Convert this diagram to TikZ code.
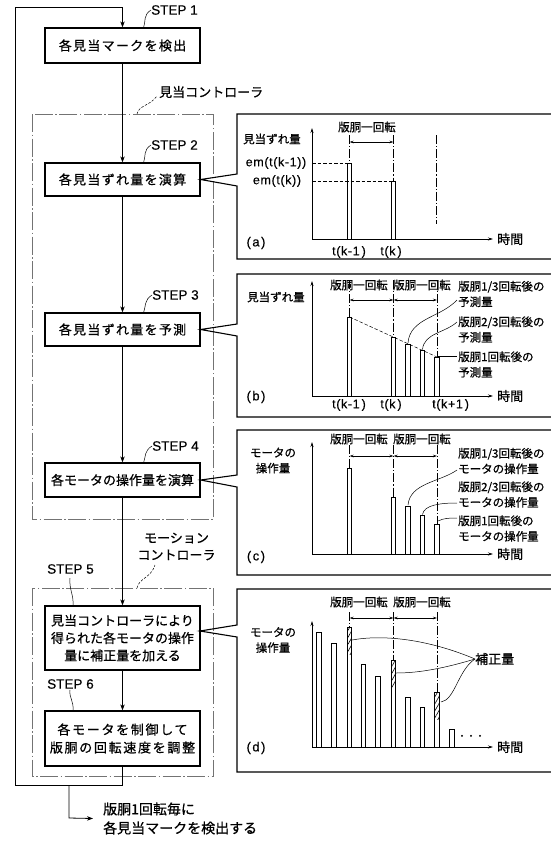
\documentclass[tikz,border=0pt]{standalone}
\usepackage{fontspec}
\setmainfont{Liberation Sans}[FakeBold=0.3]
\newfontfamily\jp{Noto Sans CJK JP}[FakeBold=0.7]
\newfontfamily\jpw{Noto Sans CJK JP}[LetterSpace=10,FakeBold=0.7]
\newfontfamily\jpww{Noto Sans CJK JP}[LetterSpace=13,FakeBold=0.7]
\newfontfamily\lsw{Liberation Sans}[LetterSpace=5,FakeBold=0.3]
\usetikzlibrary{arrows.meta,patterns.meta,calc}
\begin{document}
\begin{tikzpicture}[x=1pt,y=-1pt,
  stepbox/.style={draw, line width=1.3pt, minimum width=155pt, inner sep=0pt, align=center, font=\jp\fontsize{13}{17.5}\selectfont},
  steplbl/.style={anchor=west, inner sep=0pt, font=\fontsize{13.5}{14}\selectfont},
  flow/.style={line width=0.8pt},
  arr/.style={-{Stealth[length=6pt,width=4.5pt]}},
  ctrlbox/.style={draw=black!55, line width=0.6pt, dash pattern=on 18pt off 2.5pt on 1.5pt off 2.5pt},
  lead/.style={line width=0.5pt},
  dlead/.style={line width=0.5pt, dash pattern=on 2.5pt off 1.5pt},
  panelln/.style={line width=1.1pt, line join=miter},
  axln/.style={line width=0.7pt, -{Stealth[length=5pt,width=3pt]}},
  dimarr/.style={line width=0.6pt, {Stealth[length=4pt,width=2.5pt]}-{Stealth[length=4pt,width=2.5pt]}},
  ddln/.style={line width=0.5pt, dash pattern=on 9pt off 2pt on 1.2pt off 2pt},
  hdln/.style={line width=0.5pt, dash pattern=on 3.5pt off 2pt},
  barst/.style={draw, line width=0.9pt},
  hatchst/.style={pattern={Lines[angle=60,distance=3.5pt,line width=0.6pt]}},
  ptxt/.style={inner sep=0pt, font=\jp\fontsize{11.5}{15.5}\selectfont},
  ltxt/.style={inner sep=0pt, font=\jp\fontsize{13}{17}\selectfont},
  ticklbl/.style={inner sep=0pt, font=\lsw\fontsize{12.5}{13}\selectfont},
  plbl/.style={inner sep=0pt, font=\fontsize{13}{14}\selectfont},
]
\useasboundingbox (0,0) rectangle (550,841);
\fill[white] (0,0) rectangle (550,841);

% ---------------- controller boxes
\draw[ctrlbox] (32,114) rectangle (213,519);
\draw[ctrlbox] (32,588) rectangle (213,776);

% ---------------- step boxes
\node[stepbox, minimum height=35pt, font=\jpw\fontsize{13}{17.5}\selectfont] (s1) at (122.5,45.5) {各見当マークを検出};
\node[stepbox, minimum height=33pt, font=\jpw\fontsize{13}{17.5}\selectfont] (s2) at (122.5,179.5) {各見当ずれ量を演算};
\node[stepbox, minimum height=33pt, font=\jpw\fontsize{13}{17.5}\selectfont] (s3) at (122.5,329.5) {各見当ずれ量を予測};
\node[stepbox, minimum height=34pt] (s4) at (122.5,480) {各モータの操作量を演算};
\node[stepbox, minimum height=64pt] (s5) at (122.5,638) {見当コントローラにより\\得られた各モータの操作\\量に補正量を加える};
\node[stepbox, minimum height=55pt, font=\jpww\fontsize{13}{18}\selectfont] (s6) at (122.5,738.5) {各モータを制御して\\版胴の回転速度を調整};

% ---------------- step labels
\node[steplbl] (l1) at (151,10) {STEP 1};
\node[steplbl] (l2) at (151,145) {STEP 2};
\node[steplbl] (l3) at (152,295) {STEP 3};
\node[steplbl] (l4) at (152,446) {STEP 4};
\node[steplbl] (l5) at (47,569) {STEP 5};
\node[steplbl] (l6) at (47,684) {STEP 6};
\draw[lead] (143.5,28) .. controls (146,21) and (143,15) .. (l1.west);
\draw[lead] (143.5,163) .. controls (146,156) and (143,150) .. (l2.west);
\draw[lead] (143.5,313) .. controls (146,306) and (144,300) .. (l3.west);
\draw[lead] (143.5,463) .. controls (146,456) and (144,451) .. (l4.west);
\draw[lead] (73,606) .. controls (74,595) and (69,590) .. (70,578);
\draw[lead] (73,711) .. controls (74,701) and (69,698) .. (70,690);

% ---------------- controller labels
\node[ltxt, anchor=west] (kc) at (159,92) {見当コントローラ};
\node[ltxt, align=center] (mc) at (176.5,546.5) {モーション\\コントローラ};
\draw[dlead] (137,114) .. controls (139,105) and (150,106) .. (157,96);
\draw[dlead] (137,588) .. controls (139,578) and (151,578) .. (155,565);

% ---------------- flow
\draw[flow,arr] (s1.south) -- (s2.north);
\draw[flow,arr] (s2.south) -- (s3.north);
\draw[flow,arr] (s3.south) -- (s4.north);
\draw[flow,arr] (s4.south) -- (s5.north);
\draw[flow,arr] (s5.south) -- (s6.north);
\coordinate (lb) at (122.5,785);
\coordinate (lbl) at (15,785);
\coordinate (ltl) at (15,7);
\coordinate (ltr) at (122.5,7);
\draw[flow,arr] (s6.south) -- (lb) -- (lbl) -- (ltl) -- (ltr) -- (s1.north);
\coordinate (br) at (69,785);
\coordinate (bd) at (69,818);
\node[inner sep=0pt, anchor=west, align=left, font=\jp\fontsize{14}{19}\selectfont] (bt) at (103,818.5) {版胴1回転毎に\\各見当マークを検出する};
\draw[flow,arr] (br) -- (bd) -- ($(bt.west)+(-10,0)$);

% ---------------- panel outlines with callouts
\coordinate (tipd) at (200,631);
\draw[panelln] (552,114) -- (237,114) -- (237,174) -- (s2.east) -- (237,186) -- (237,259) -- (552,259);
\draw[panelln] (552,274) -- (237,274) -- (237,324) -- (s3.east) -- (237,336) -- (237,417) -- (552,417);
\draw[panelln] (552,430) -- (237,430) -- (237,475) -- (s4.east) -- (237,487) -- (237,575) -- (552,575);
\draw[panelln] (552,589) -- (237,589) -- (237,625) -- (tipd) -- (237,637) -- (237,772) -- (552,772);

% ================= panel (a)
\draw[axln] (312,239) -- (312,128);
\draw[axln] (312,239) -- (493,239);
\draw[ddln] (349.5,135) -- (349.5,163);
\draw[ddln] (393.5,135) -- (393.5,181);
\draw[ddln] (436.5,135) -- (436.5,224);
\draw[hdln] (312,163) -- (347,163);
\draw[hdln] (312,181) -- (391,181);
\draw[barst] (349.5-2.3,163) rectangle (349.5+2.3,239);
\draw[barst] (393.5-2.3,181) rectangle (393.5+2.3,239);
\draw[dimarr] (349.5,142) -- (393.5,142);
\node[ptxt, anchor=west] (ra) at (338,127) {版胴一回転};
\node[ptxt, anchor=west] (ya) at (243,139) {見当ずれ量};
\node[ticklbl] (e1) at (276,163) {em(t(k-1))};
\node[ticklbl] (e2) at (277,181) {em(t(k))};
\node[plbl] (la) at (256,243) {(\kern1.5pt a\kern1.5pt)};
\node[ticklbl] (t1a) at (349,252) {t(k-1\kern2pt)};
\node[ticklbl] (t2a) at (391,252) {t(k\kern2pt)};
\node[ltxt, anchor=west] (xa) at (497,239) {時間};

% ================= panel (b)
\draw[axln] (312,396) -- (312,281);
\draw[axln] (312,396) -- (493,396);
\draw[ddln] (349.5,280) -- (349.5,317);
\draw[ddln] (393.5,280) -- (393.5,337);
\draw[ddln] (437,280) -- (437,357);
\draw[hdln] (349.5,317) -- (437,357);
\foreach \x/\t in {349.5/317, 393.5/337, 408/344, 422.5/350.5, 437/357}
  \draw[barst] (\x-2.3,\t) rectangle (\x+2.3,396);
\draw[dimarr] (349.5,300) -- (393.5,300);
\draw[dimarr] (393.5,300) -- (437,300);
\node[ptxt, anchor=west] (rb1) at (330,285) {版胴一回転};
\node[ptxt, anchor=west] (rb2) at (393,285) {版胴一回転};
\node[ptxt, anchor=west] (yb) at (247,297) {見当ずれ量};
\node[ptxt, anchor=west, align=left] (pb1) at (458,294) {版胴1/3回転後の\\予測量};
\node[ptxt, anchor=west, align=left] (pb2) at (458,329.5) {版胴2/3回転後の\\予測量};
\node[ptxt, anchor=west, align=left] (pb3) at (458,364.5) {版胴1回転後の\\予測量};
\draw[lead] (408,343) .. controls (410,318) and (440,318) .. (457,300);
\draw[lead] (422.5,349.5) .. controls (424,333) and (445,333) .. (457,322);
\draw[lead] (438,356) -- (457,356);
\node[plbl] (lb2) at (256,397) {(\kern1.5pt b\kern1.5pt)};
\node[ticklbl] (t1b) at (349,405) {t(k-1\kern2pt)};
\node[ticklbl] (t2b) at (391,405) {t(k\kern2pt)};
\node[ticklbl, anchor=west] (t3b) at (432,405) {t(k+1\kern2pt)};
\node[ltxt, anchor=west] (xb) at (497,396) {時間};

% ================= panel (c)
\draw[axln] (312,554) -- (312,442);
\draw[axln] (312,554) -- (493,554);
\draw[ddln] (349.5,445) -- (349.5,468);
\draw[ddln] (393.5,445) -- (393.5,497);
\draw[ddln] (437,445) -- (437,524);
\foreach \x/\t in {349.5/468, 393.5/497, 408/506, 422.5/515, 437/524}
  \draw[barst] (\x-2.3,\t) rectangle (\x+2.3,554);
\draw[dimarr] (349.5,456) -- (393.5,456);
\draw[dimarr] (393.5,456) -- (437,456);
\node[ptxt, anchor=west] (rc1) at (330,439) {版胴一回転};
\node[ptxt, anchor=west] (rc2) at (393,439) {版胴一回転};
\node[ptxt, align=center] (yc) at (273,460.5) {モータの\\操作量};
\node[ptxt, anchor=west, align=left] (pc1) at (458,461) {版胴1/3回転後の\\モータの操作量};
\node[ptxt, anchor=west, align=left] (pc2) at (458,494.5) {版胴2/3回転後の\\モータの操作量};
\node[ptxt, anchor=west, align=left] (pc3) at (458,528.5) {版胴1回転後の\\モータの操作量};
\draw[lead] (408,505) .. controls (410,483) and (440,482) .. (457,470);
\draw[lead] (422.5,514.5) .. controls (424,505) and (440,503) .. (457,503);
\draw[lead] (438,521) .. controls (444,518) and (450,518) .. (457,518);
\node[plbl] (lc) at (256,557) {(\kern1.5pt c\kern1.5pt)};
\node[ltxt, anchor=west] (xc) at (497,554) {時間};

% ================= panel (d)
\draw[axln] (312,747) -- (312,621);
\draw[axln] (312,747) -- (493,747);
\draw[ddln] (349.5,612) -- (349.5,627);
\draw[ddln] (393.5,612) -- (393.5,660);
\draw[ddln] (437,612) -- (437,692);
\foreach \x/\t/\b in {349.5/627/654, 393.5/660/687, 437/692/719}
  \fill[hatchst] (\x-2.3,\t) rectangle (\x+2.3,\b);
\foreach \x/\t in {319/632, 334/643, 349.5/627, 363.5/664, 378/676, 393.5/660, 408/697, 422.5/707, 437/692, 452/729}
  \draw[barst] (\x-2.3,\t) rectangle (\x+2.3,747);
\draw[dimarr] (349.5,618) -- (393.5,618);
\draw[dimarr] (393.5,618) -- (437,618);
\node[ptxt, anchor=west] (rd1) at (330,602) {版胴一回転};
\node[ptxt, anchor=west] (rd2) at (393,602) {版胴一回転};
\node[ptxt, align=center] (yd) at (273,640) {モータの\\操作量};
\node[ltxt, anchor=west] (hs) at (475,659) {補正量};
\draw[lead] (352,640) .. controls (385,634) and (430,640) .. (hs.west);
\draw[lead] (396,673) .. controls (420,673) and (445,668) .. (hs.west);
\draw[lead] (441,702) .. controls (455,700) and (458,670) .. (hs.west);
\node[inner sep=0pt, font=\jp\fontsize{9}{9}\selectfont] (dots) at (471,737) {・・・};
\node[plbl] (ld) at (256,748) {(\kern1.5pt d\kern1.5pt)};
\node[ltxt, anchor=west] (xd) at (497,747) {時間};
\end{tikzpicture}
\end{document}
